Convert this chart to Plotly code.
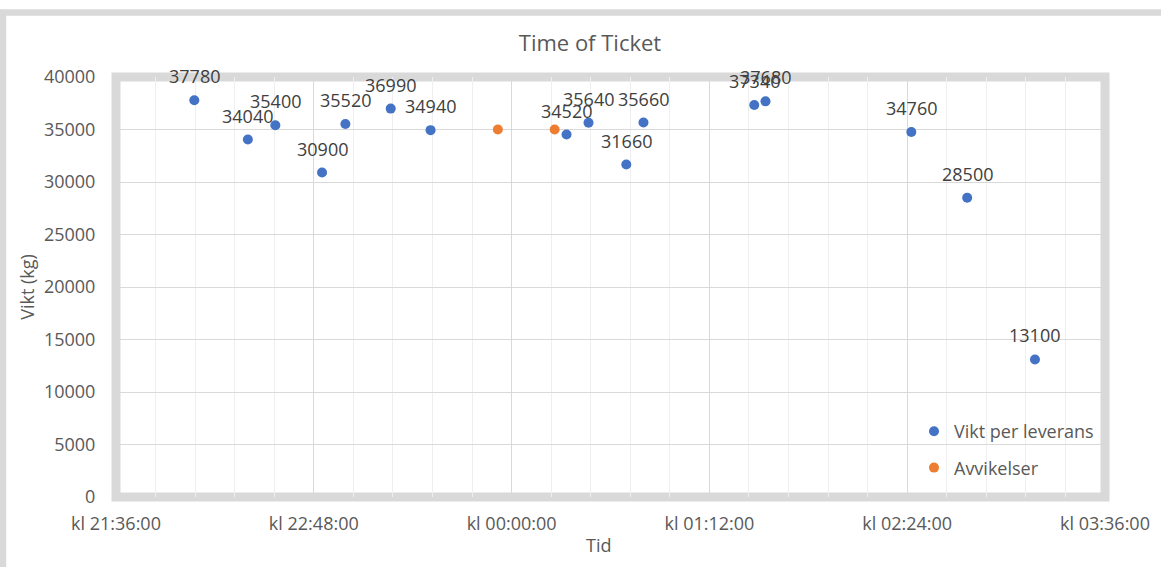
import plotly.graph_objects as go

# ---- data ----
blue_times = [
    "2024-01-01 22:04:30", "2024-01-01 22:24:00", "2024-01-01 22:34:00",
    "2024-01-01 22:51:00", "2024-01-01 22:59:30", "2024-01-01 23:16:00",
    "2024-01-01 23:30:30", "2024-01-02 00:20:00", "2024-01-02 00:28:00",
    "2024-01-02 00:41:45", "2024-01-02 00:48:00", "2024-01-02 01:28:20",
    "2024-01-02 01:32:25", "2024-01-02 02:25:30", "2024-01-02 02:45:50",
    "2024-01-02 03:10:30",
]
blue_values = [37780, 34040, 35400, 30900, 35520, 36990, 34940, 34520,
               35640, 31660, 35660, 37340, 37680, 34760, 28500, 13100]

orange_times = ["2024-01-01 23:55:00", "2024-01-02 00:15:40"]
orange_values = [35000, 35000]

series_names = ["Vikt per leverans", "Avvikelser"]
chart_title = "Time of Ticket"
x_title = "Tid"
y_title = "Vikt (kg)"
x_range = ["2024-01-01 21:36:00", "2024-01-02 03:36:00"]
y_range = [0, 40000]

# ---- styling ----
W, H = 1161, 567
ML, MR, MT, MB = 116, 56, 77, 70
TXT = "#595959"
FONT = "Open Sans"
BLUE = "#4472C4"
ORANGE = "#ED7D31"

fig = go.Figure()
fig.add_trace(go.Scatter(
    x=blue_times, y=blue_values, mode="markers", name=series_names[0],
    marker=dict(color=BLUE, size=10), legendgroup="a", cliponaxis=False,
))
fig.add_trace(go.Scatter(
    x=orange_times, y=orange_values, mode="markers", name=series_names[1],
    marker=dict(color=ORANGE, size=10), legendgroup="b", cliponaxis=False,
))

pw = W - ML - MR
ph = H - MT - MB

def px_x(p):
    return (p - ML) / pw

def px_y(p):
    return (H - MB - p) / ph

# data labels above blue points
annotations = []
for t, v in zip(blue_times, blue_values):
    annotations.append(dict(
        x=t, y=v, xref="x", yref="y", text=str(v), showarrow=False,
        yshift=24, font=dict(family=FONT, size=18, color="#404040"),
    ))
# x-axis title
annotations.append(dict(
    x=px_x(598), y=px_y(545), xref="paper", yref="paper", text=x_title,
    showarrow=False, xanchor="center", yanchor="middle",
    font=dict(family=FONT, size=18, color=TXT),
))

shapes = [
    # outer chart frame
    dict(type="rect", xref="paper", yref="paper",
         x0=px_x(3), x1=px_x(1180), y0=px_y(590), y1=px_y(12.5),
         line=dict(color="#d9d9d9", width=6.5), fillcolor="rgba(0,0,0,0)",
         layer="below"),
    # plot area border
    dict(type="rect", xref="paper", yref="paper", x0=0, x1=1, y0=0, y1=1,
         line=dict(color="#d9d9d9", width=9), fillcolor="rgba(0,0,0,0)",
         layer="between"),
]

fig.update_layout(
    width=W, height=H,
    margin=dict(l=ML, r=MR, t=MT, b=MB, autoexpand=False),
    paper_bgcolor="white", plot_bgcolor="white",
    font=dict(family=FONT, size=18, color=TXT),
    title=dict(text=chart_title, x=590 / W, xref="container", xanchor="center",
               y=1 - 43 / H, yref="container", yanchor="middle",
               font=dict(family=FONT, size=22, color=TXT)),
    showlegend=True,
    legend=dict(x=px_x(914), xanchor="left", y=px_y(413), yanchor="top",
                bgcolor="rgba(0,0,0,0)", font=dict(family=FONT, size=18, color=TXT),
                tracegroupgap=10, itemwidth=30),
    annotations=annotations,
    shapes=shapes,
    xaxis=dict(
        type="date", range=x_range, automargin=False,
        tick0=x_range[0], dtick=72 * 60 * 1000,
        tickformat="kl %H:%M:%S",
        showgrid=True, gridcolor="#d9d9d9", gridwidth=1,
        minor=dict(dtick=72 * 60 * 1000 / 5, showgrid=True, gridcolor="#efefef", gridwidth=1),
        ticks="outside", ticklen=10, tickcolor="rgba(0,0,0,0)",
        zeroline=False, showline=False,
        tickfont=dict(family=FONT, size=18, color=TXT),
    ),
    yaxis=dict(
        range=y_range, dtick=5000, tick0=0, tickformat="d", automargin=False,
        showgrid=True, gridcolor="#d9d9d9", gridwidth=1,
        ticks="outside", ticklen=16, tickcolor="rgba(0,0,0,0)",
        zeroline=False, showline=False,
        title=dict(text=y_title, standoff=4, font=dict(family=FONT, size=18, color=TXT)),
        tickfont=dict(family=FONT, size=18, color=TXT),
    ),
)

fig.write_html(
    "out.html",
    config={"displayModeBar": False},
    post_script="document.body.style.margin='0';document.body.style.overflow='hidden';",
)
